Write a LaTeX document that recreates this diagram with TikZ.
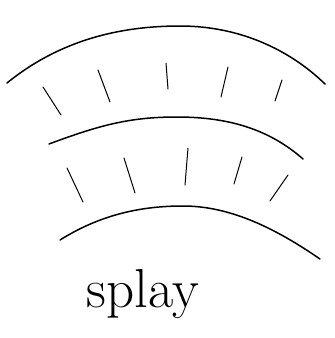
\documentclass[tikz,border=0pt]{standalone}
\usetikzlibrary{calc}

\begin{document}
\begin{tikzpicture}[x=1pt,y=-1pt,line join=round,line cap=round]
  \tikzset{
    layer/.style={line width=1.5pt},
    hair/.style={line width=1pt}
  }
  \useasboundingbox (0,0) rectangle (335,338);

  % ---- the three bent layers --------------------------------------------
  \draw[layer] (7,83) .. controls (60,40) and (120,26) .. (180,26)
               .. controls (240,26) and (290,50) .. (325,84);
  \draw[layer] (49,144) .. controls (100,125) and (130,117) .. (177,117)
               .. controls (230,117) and (270,130) .. (303,159);
  \draw[layer] (60,240) .. controls (100,215) and (140,206) .. (183,206)
               .. controls (230,206) and (275,228) .. (320,259);

  % ---- fanning strokes, upper row ---------------------------------------
  \foreach \xa/\ya/\xb/\yb in {43/87/61/115, 98/70/110/102, 166/63/168/89,
                               228/67/221/97, 282/80/275/101}{
     \draw[hair] (\xa,\ya) -- (\xb,\yb);
  }
  % ---- fanning strokes, lower row ---------------------------------------
  \foreach \xa/\ya/\xb/\yb in {67/168/83/202, 124/158/135/193, 188/148/185/185,
                               242/157/234/184, 288/175/270/201}{
     \draw[hair] (\xa,\ya) -- (\xb,\yb);
  }

  \node[anchor=base,inner sep=0pt,font=\fontsize{55}{66}\selectfont]
        (splay) at (143,307) {splay};

\end{tikzpicture}
\end{document}
